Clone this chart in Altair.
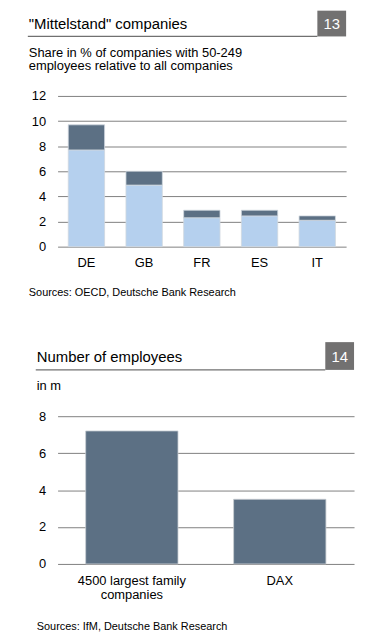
import altair as alt
import pandas as pd

FONT = "Liberation Sans"

# ---- Chart 13 data ----
countries = ["DE", "GB", "FR", "ES", "IT"]
share_base = [7.7, 4.9, 2.3, 2.45, 2.1]
share_top = [2.0, 1.1, 0.6, 0.45, 0.35]
parts = ["base", "top"]
y1_ticks = [0, 2, 4, 6, 8, 10, 12]

# ---- Chart 14 data ----
groups = ["4500 largest family companies", "DAX"]
employees = [7.2, 3.5]
y2_ticks = [0, 2, 4, 6, 8]

title1 = '"Mittelstand" companies'
num1 = "13"
sub1 = ["Share in % of companies with 50-249", "employees relative to all companies"]
src1 = "Sources: OECD, Deutsche Bank Research"

title2 = "Number of employees"
num2 = "14"
sub2 = "in m"
src2 = "Sources: IfM, Deutsche Bank Research"

LIGHT = "#b5d0ee"
DARK = "#5c7084"
GREY = "#727171"

rows = []
for i, c in enumerate(countries):
    rows.append({"country": c, "part": parts[0], "value": share_base[i], "order": 0})
    rows.append({"country": c, "part": parts[1], "value": share_top[i], "order": 1})
df1 = pd.DataFrame(rows)
df2 = pd.DataFrame({"group": groups, "value": employees})

W1, H1 = 291, 152
W2, H2 = 299, 149


def header(width, box_x, box_top, box_bottom, title_x, title_text, num_text, num_x, base_y):
    one = pd.DataFrame({"a": [0]})
    base = alt.Chart(one)
    box = base.mark_rect(color=GREY).encode(
        x=alt.value(box_x), x2=alt.value(width), y=alt.value(box_top), y2=alt.value(box_bottom))
    rule = base.mark_rule(color="#707070", strokeWidth=1.3).encode(
        x=alt.value(title_x - 1), x2=alt.value(box_x), y=alt.value(box_bottom))
    ttl = base.mark_text(align="left", baseline="alphabetic", font=FONT, fontSize=15,
                         color="black").encode(x=alt.value(title_x), y=alt.value(base_y),
                                               text=alt.value(title_text))
    num = base.mark_text(align="center", baseline="alphabetic", font=FONT, fontSize=15,
                         color="white").encode(x=alt.value(num_x), y=alt.value(base_y),
                                               text=alt.value(num_text))
    return [box, rule, ttl, num]


def txt(x, y, s, size):
    return alt.Chart(pd.DataFrame({"a": [0]})).mark_text(
        align="left", baseline="alphabetic", font=FONT, fontSize=size, color="black"
    ).encode(x=alt.value(x), y=alt.value(y), text=alt.value(s))


# ---- Panel 1 ----
bars1 = alt.Chart(df1).mark_bar(stroke="#d0d8e0", strokeWidth=0.8).encode(
    x=alt.X("country:N", sort=countries,
            scale=alt.Scale(paddingInner=0.37, paddingOuter=0.185),
            axis=alt.Axis(title=None, labelAngle=0, ticks=False, tickSize=0, domain=False,
                          labelPadding=10, labelFont=FONT, labelFontSize=13,
                          labelColor="black")),
    y=alt.Y("value:Q", stack="zero", scale=alt.Scale(domain=[0, 12], nice=False),
            axis=alt.Axis(title=None, values=y1_ticks, ticks=False, domain=False, grid=True,
                          gridColor="#808080", gridWidth=1, labelPadding=12,
                          labelFont=FONT, labelFontSize=13, labelColor="black")),
    color=alt.Color("part:N", scale=alt.Scale(domain=parts, range=[LIGHT, DARK]), legend=None),
    order=alt.Order("order:Q"),
)

p1 = alt.layer(
    bars1,
    *header(W1, 262, -86, -60, -29, title1, num1, 276.5, -67.3),
    txt(-29, -39.7, sub1[0], 13),
    txt(-29, -25.7, sub1[1], 13),
    txt(-29, 202, src1, 11),
).properties(width=W1, height=H1)

# ---- Panel 2 ----
bars2 = alt.Chart(df2).mark_bar(color=DARK, stroke="#c8cdd2", strokeWidth=0.8).encode(
    x=alt.X("group:N", sort=groups,
            scale=alt.Scale(paddingInner=0.376, paddingOuter=0.19),
            axis=alt.Axis(title=None, labelAngle=0, ticks=False, tickSize=0, domain=False,
                          labelPadding=11, labelFont=FONT, labelFontSize=13,
                          labelColor="black", labelLineHeight=14,
                          labelExpr="datum.value == '4500 largest family companies' ? ['4500 largest family', 'companies'] : datum.value")),
    y=alt.Y("value:Q", scale=alt.Scale(domain=[0, 8], nice=False),
            axis=alt.Axis(title=None, values=y2_ticks, ticks=False, domain=False, grid=True,
                          gridColor="#808080", gridWidth=1, labelPadding=12,
                          labelFont=FONT, labelFontSize=13, labelColor="black")),
)

p2 = alt.layer(
    bars2,
    *header(W2, 270, -74.7, -46.7, -21, title2, num2, 284.5, -55),
    txt(-21, -26.7, sub2, 13),
    txt(-21, 215.6, src2, 11),
).properties(width=W2, height=H2)

chart = alt.vconcat(p1, p2, spacing=44).properties(
    padding={"left": 19, "top": 0, "right": 5, "bottom": 2},
    background="white",
).configure_view(stroke=None)

chart.save("out.html", embed_options={"renderer": "svg", "actions": False})
